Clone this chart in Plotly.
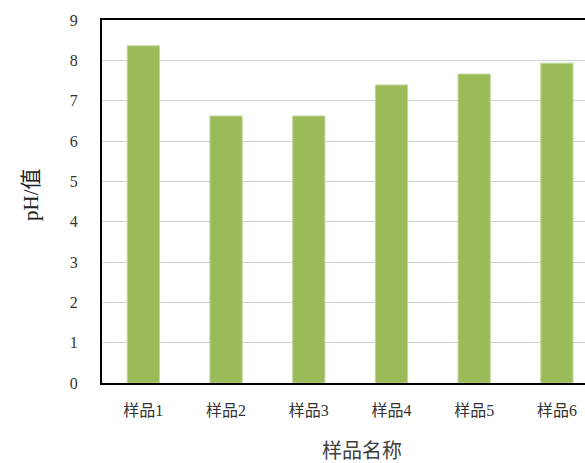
import plotly.graph_objects as go

# sample names and measured pH
samples = ['样品1', '样品2', '样品3', '样品4', '样品5', '样品6']
ph_values = [8.36, 6.62, 6.62, 7.39, 7.66, 7.93]

W, H = 585, 463
L, R, T, B = 102, 0, 20, 80

fig = go.Figure(go.Bar(
    x=samples, y=ph_values,
    marker=dict(color='#9BBB59', line=dict(color='#C3D69B', width=1)),
    width=0.39,
))

tick_font = dict(family='Liberation Serif, Noto Sans CJK SC', size=16, color='#333333')


def px_to_paper(px, py):
    # pixel -> paper coords of the plot area
    return (px - L) / (W - L - R), (H - B - py) / (H - T - B)


xt = px_to_paper(362, 449)
yt = px_to_paper(31, 195)

fig.update_layout(
    width=W, height=H,
    margin=dict(l=L, r=R, t=T, b=B),
    plot_bgcolor='white', paper_bgcolor='white',
    showlegend=False,
    xaxis=dict(
        range=[-0.5, 5.34], showline=True, linecolor='black', linewidth=2,
        mirror=True, ticks='', tickfont=tick_font, ticklabelstandoff=12,
        showgrid=False,
    ),
    yaxis=dict(
        range=[0, 9], dtick=1, showline=True, linecolor='black', linewidth=2,
        gridcolor='#D0D0D0', gridwidth=1, ticks='', tickfont=tick_font,
        ticklabelstandoff=19, zeroline=False,
    ),
    annotations=[
        dict(text='样品名称', x=xt[0], y=xt[1], xref='paper', yref='paper',
             xanchor='center', yanchor='middle', showarrow=False,
             font=dict(family='Noto Sans CJK SC', size=20, color='#404040')),
        dict(text='pH/值', x=yt[0], y=yt[1], xref='paper', yref='paper', textangle=-90,
             xanchor='center', yanchor='middle', showarrow=False,
             font=dict(family='Liberation Serif, Noto Sans CJK SC', size=21, color='#222222')),
    ],
)

fig.write_html('out.html', config={'displayModeBar': False},
               post_script="document.body.style.margin='0';")
